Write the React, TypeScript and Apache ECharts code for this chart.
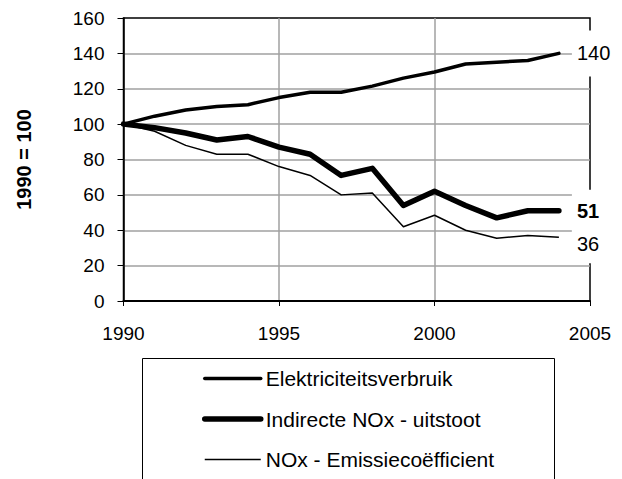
import React, { useEffect, useRef } from "react";
import * as echarts from "echarts";

const years = [1990, 1991, 1992, 1993, 1994, 1995, 1996, 1997, 1998, 1999, 2000, 2001, 2002, 2003, 2004];
const elektriciteit = [100, 104.5, 108, 110, 111, 115, 118, 118, 121.5, 126, 129.5, 134, 135, 136, 140];
const indirecteNOx = [100, 98, 95, 91, 93, 87, 83, 71, 75, 54, 62, 54, 47, 51, 51];
const emissieCoef = [100, 96, 88, 83, 83, 76, 71, 60, 61, 42, 48.5, 40, 35.5, 37, 36];
const seriesNames = ["Elektriciteitsverbruik", "Indirecte NOx - uitstoot", "NOx - Emissiecoëfficient"];
const endLabels = ["140", "51", "36"];

const FONT = "'Liberation Sans', Arial, sans-serif";

function buildData(values: number[]) {
  return values.map((v, i) => [years[i], v]);
}

export default function App() {
  const ref = useRef<HTMLDivElement>(null);
  useEffect(() => {
    if (!ref.current) return;
    const chart = echarts.init(ref.current, undefined, { renderer: "svg" });
    const baseLabel = {
      show: true,
      distance: 13,
      color: "#000",
      fontFamily: FONT,
      fontSize: 20,
      backgroundColor: "#fff",
    };
    chart.setOption({
      animation: false,
      backgroundColor: "#fff",
      textStyle: { fontFamily: FONT },
      grid: {
        left: 123.5,
        right: 32,
        top: 18,
        bottom: 178,
        show: true,
        borderColor: "#000",
        borderWidth: 1.5,
        backgroundColor: "transparent",
      },
      legend: {
        orient: "vertical",
        left: 202,
        top: 368,
        padding: 0,
        itemWidth: 56,
        itemHeight: 20,
        itemGap: 19.5,
        lineStyle: { width: "inherit" },
        itemStyle: { color: "rgba(0,0,0,0)", borderWidth: 0, opacity: 0 },
        textStyle: { color: "#000", fontSize: 21, fontFamily: FONT, lineHeight: 20 },
        selectedMode: false,
        data: seriesNames,
      },
      graphic: [
        {
          type: "rect",
          shape: { x: 142.5, y: 358.5, width: 412, height: 200 },
          style: { fill: "none", stroke: "#000", lineWidth: 1 },
          silent: true,
        },
      ],
      xAxis: {
        type: "value",
        min: 1990,
        max: 2005,
        interval: 5,
        axisLine: { show: true, lineStyle: { color: "#000", width: 2 } },
        axisTick: { show: true, length: 5, lineStyle: { color: "#000", width: 1 } },
        axisLabel: {
          color: "#000",
          fontSize: 19,
          fontFamily: FONT,
          margin: 23,
          formatter: (v: number) => String(v),
        },
        splitLine: {
          show: true,
          showMinLine: false,
          showMaxLine: false,
          lineStyle: { color: "#a0a0a0", width: 1.5 },
        },
      },
      yAxis: {
        type: "value",
        min: 0,
        max: 160,
        interval: 20,
        name: "1990 = 100",
        nameLocation: "middle",
        nameRotate: 90,
        nameGap: 90,
        nameTextStyle: { color: "#000", fontSize: 20, fontWeight: "bold", fontFamily: FONT },
        axisLine: { show: true, lineStyle: { color: "#000", width: 1.5 } },
        axisTick: { show: true, length: 6, lineStyle: { color: "#000", width: 1 } },
        axisLabel: { color: "#000", fontSize: 19, fontFamily: FONT, margin: 19 },
        splitLine: {
          show: true,
          showMinLine: false,
          showMaxLine: false,
          lineStyle: { color: "#a0a0a0", width: 1.5 },
        },
      },
      series: [
        {
          name: seriesNames[0],
          type: "line",
          symbol: "none",
          lineStyle: { color: "#000", width: 3.5, join: "round", cap: "round" },
          itemStyle: { color: "#000" },
          data: buildData(elektriciteit),
          endLabel: {
            ...baseLabel,
            formatter: endLabels[0],
            padding: [13, 10, 13, 5],
          },
          z: 3,
        },
        {
          name: seriesNames[1],
          type: "line",
          symbol: "none",
          lineStyle: { color: "#000", width: 5.5, join: "round", cap: "round" },
          itemStyle: { color: "#000" },
          data: buildData(indirecteNOx),
          endLabel: {
            ...baseLabel,
            formatter: endLabels[1],
            fontWeight: "bold",
            padding: [14, 10, 8, 5],
          },
          z: 3,
        },
        {
          name: seriesNames[2],
          type: "line",
          symbol: "none",
          lineStyle: { color: "#000", width: 1.5, join: "round" },
          itemStyle: { color: "#000" },
          data: buildData(emissieCoef),
          endLabel: {
            ...baseLabel,
            formatter: endLabels[2],
            offset: [0, 7],
            padding: [4, 10, 14, 5],
          },
          z: 3,
        },
      ],
    });
    return () => chart.dispose();
  }, []);
  return (
    <div
      ref={ref}
      style={{ position: "fixed", left: 0, top: 0, width: 622, height: 479 }}
    />
  );
}
